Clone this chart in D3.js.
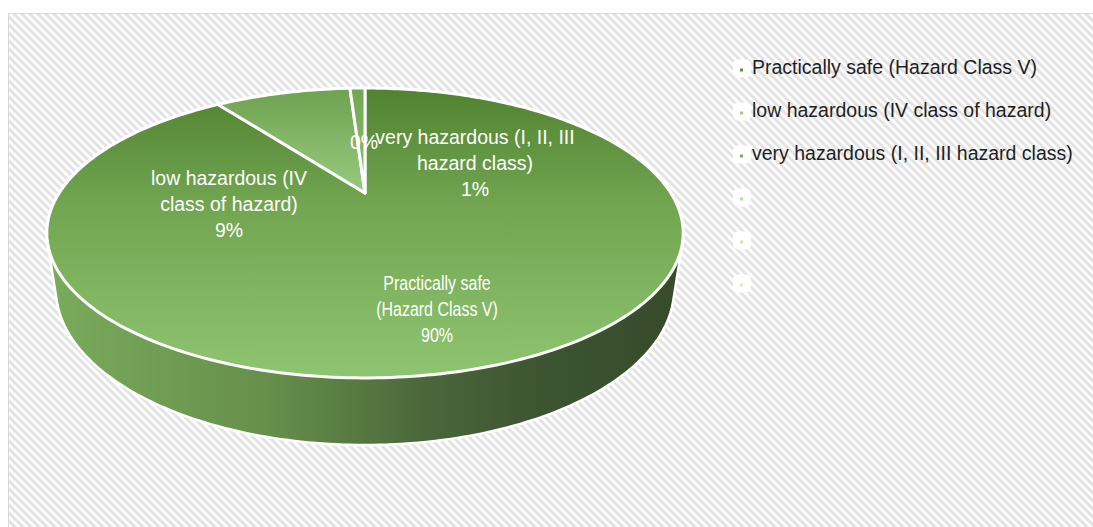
<!DOCTYPE html>
<html><head><meta charset="utf-8">
<script src="https://cdn.jsdelivr.net/npm/d3@7"></script>
<style>body{margin:0;background:#fff}svg{display:block}</style>
</head><body>
<svg id="c" width="1093" height="527"></svg>
<script>
// ---- data ----
const categories = ["Practically safe (Hazard Class V)", "low hazardous (IV class of hazard)", "very hazardous (I, II, III hazard class)", "", "", ""];
const values = [90, 9, 1, 0, 0, 0];
const labelNames = [["Practically safe", "(Hazard Class V)"], ["low hazardous (IV", "class of hazard)"], ["very hazardous (I, II, III", "hazard class)"], [], null, null];

// ---- layout / style ----
const W = 1093, H = 527;
const cx = 365, cy = 193;
const alpha = Math.asin(134 / 306), D = 3.26, f = 997, depth = 0.2015;
const sliceTop = ["#518230", "#6ea24f", "#72a652", "#b8dba6", "#c9e4bb", "#d9edcf"];
const sliceBot = ["#8fc471", "#98ca7e", "#90c272", "#b8dba6", "#c9e4bb", "#d9edcf"];
const legendDot = ["#5f9140", "#9ccb84", "#78ad58", "#b8dba6", "#c9e4bb", "#d9edcf"];
const labelAnchor = [[437, 283], [229, 178], [475, 137], [364, 142]];
const labelScaleX = [0.82, 1, 1, 1];
const fontFamily = "'Liberation Sans', Arial, sans-serif";

const svg = d3.select("#c");
const defs = svg.append("defs");

// hatch
const pat = defs.append("pattern").attr("id", "hatch").attr("width", 8).attr("height", 8)
  .attr("patternUnits", "userSpaceOnUse");
pat.append("rect").attr("width", 8).attr("height", 8).attr("fill", "#fff");
pat.append("path").attr("d", "M-2,-2L10,10M-2,6L2,10M6,-2L10,2")
  .attr("stroke", "#e3e3e3").attr("stroke-width", 3);

svg.append("rect").attr("width", W).attr("height", H).attr("fill", "#fff");
svg.append("rect").attr("x", 8.5).attr("y", 13.5).attr("width", W + 10).attr("height", H + 10)
  .attr("fill", "url(#hatch)").attr("stroke", "#d9d9d9").attr("stroke-width", 1);

// projection of a point on the (tilted, perspective) pie
function proj(theta, rho, h) {
  const u = rho * Math.sin(theta), v = -rho * Math.cos(theta);
  const ca = Math.cos(alpha), sa = Math.sin(alpha);
  const yup = h * ca - v * sa;
  const zc = D - (v * ca + h * sa);
  return [cx + f * u / zc, cy - f * yup / zc];
}

const pie = d3.pie().sort(null).value(d => d);
const arcs = pie(values);
const line = d3.line().curve(d3.curveLinearClosed);

// gradients
arcs.forEach((a, i) => {
  const g = defs.append("linearGradient").attr("id", "g" + i).attr("x1", 0).attr("y1", 0).attr("x2", 0).attr("y2", 1);
  g.append("stop").attr("offset", "0%").attr("stop-color", sliceTop[i]);
  if (i === 0) g.append("stop").attr("offset", "40%").attr("stop-color", "#71a550");
  g.append("stop").attr("offset", "100%").attr("stop-color", sliceBot[i]);
});
const sg = defs.append("linearGradient").attr("id", "side").attr("gradientUnits", "userSpaceOnUse")
  .attr("x1", 47).attr("y1", 0).attr("x2", 684).attr("y2", 0);
[[0, "#7aab5c"], [0.35, "#668f4b"], [0.6, "#4a663a"], [0.78, "#3c5431"], [1, "#374a2b"]]
  .forEach(s => sg.append("stop").attr("offset", s[0]).attr("stop-color", s[1]));

// side (silhouette of cylinder)
const N = 360;
const rimTop = d3.range(N).map(k => proj(k / N * 2 * Math.PI, 1, 0));
const rimBot = d3.range(N).map(k => proj(k / N * 2 * Math.PI, 1, -depth));
const hull = d3.polygonHull(rimTop.concat(rimBot));
svg.append("path").attr("d", line(hull)).attr("fill", "url(#side)")
  .attr("stroke", "#fff").attr("stroke-width", 2.5).attr("stroke-linejoin", "round");

// top face slices
arcs.forEach((a, i) => {
  if (a.endAngle - a.startAngle <= 0) return;
  const steps = Math.max(2, Math.ceil((a.endAngle - a.startAngle) / (Math.PI / 180)));
  const pts = [proj(0, 0, 0)];
  for (let k = 0; k <= steps; k++) {
    pts.push(proj(a.startAngle + (a.endAngle - a.startAngle) * k / steps, 1, 0));
  }
  svg.append("path").attr("d", line(pts)).attr("fill", "url(#g" + i + ")")
    .attr("stroke", "#fff").attr("stroke-width", 3).attr("stroke-linejoin", "round");
});

// data labels
const total = d3.sum(values);
const fmt = d3.format(".0%");
arcs.forEach((a, i) => {
  if (!labelNames[i] || !labelAnchor[i]) return;
  const lines = labelNames[i].concat([fmt(a.value / total)]);
  const t = svg.append("text").attr("text-anchor", "middle").attr("fill", "#fff")
    .attr("font-family", fontFamily).attr("font-size", 19.5)
    .attr("transform", `translate(${labelAnchor[i][0]},${labelAnchor[i][1]}) scale(${labelScaleX[i]},1)`);
  lines.forEach((s, k) => {
    t.append("tspan").attr("x", 0).attr("y", k * 26).attr("dy", "0.35em").text(s);
  });
});

// legend
const lg = svg.append("g");
categories.forEach((c, i) => {
  const y = 67.5 + i * 43;
  lg.append("rect").attr("x", 733).attr("y", y - 8).attr("width", 18).attr("height", 18)
    .attr("rx", 5).attr("fill", "#fff");
  lg.append("rect").attr("x", 740).attr("y", y + 1).attr("width", 3).attr("height", 3).attr("fill", legendDot[i]);
  lg.append("text").attr("x", 752).attr("y", y).attr("dy", "0.35em").attr("fill", "#1f1f1f")
    .attr("font-family", fontFamily).attr("font-size", 19.5).text(c);
});
</script>
</body></html>
